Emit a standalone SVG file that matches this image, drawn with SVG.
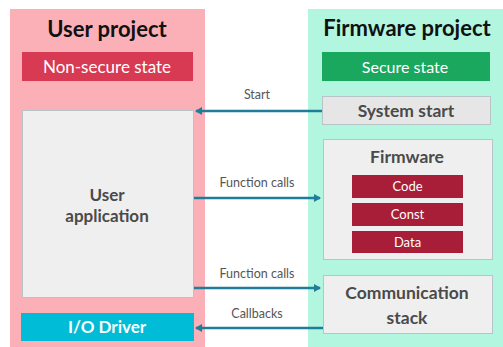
<svg xmlns="http://www.w3.org/2000/svg" width="503" height="347" viewBox="0 0 503 347">
  <style>
    text { font-family: Lato, "Open Sans", "DejaVu Sans", sans-serif; text-anchor: middle; }
    .title { font-size: 22px; font-weight: bold; fill: #111; }
    .state { font-size: 16px; fill: #fff; }
    .box { fill: #efefef; stroke: #b9c4c8; stroke-width: 1; }
    .boxtext { font-size: 17.5px; font-weight: bold; fill: #4a4a4a; }
    .seg { fill: #a81e38; }
    .segtext { font-size: 13px; fill: #fff; }
    .lbl { font-size: 12.5px; fill: #555; }
    .conn { stroke: #1f7d99; stroke-width: 2.5; fill: none; marker-end: url(#arrow); }
  </style>
  <defs>
    <marker id="arrow" markerWidth="8" markerHeight="8" refX="6" refY="4" orient="auto" markerUnits="userSpaceOnUse">
      <path d="M0,0 L7,4 L0,8 Z" fill="#1f7d99"/>
    </marker>
  </defs>

  <rect width="503" height="347" fill="#fff"/>

  <!-- Left column: non-secure side -->
  <g id="user-project">
    <rect x="10" y="9" width="195" height="338" fill="#fbb0b8"/>
    <text class="title" x="107" y="37">User project</text>
  </g>
  <g id="non-secure-state">
    <rect x="22" y="52" width="171" height="29" fill="#d73a52"/>
    <text class="state" x="107" y="73" style="font-size:17px">Non-secure state</text>
  </g>
  <g id="user-application">
    <rect class="box" x="22.5" y="110.5" width="171" height="187"/>
    <text class="boxtext" x="107" y="201" style="font-size:17px">User</text>
    <text class="boxtext" x="107" y="222" style="font-size:17px">application</text>
  </g>
  <g id="io-driver">
    <rect x="21" y="313" width="173" height="28" fill="#00bcd6"/>
    <text class="boxtext" x="107" y="333" style="fill:#fff;font-size:17px">I/O Driver</text>
  </g>

  <!-- Right column: secure side -->
  <g id="firmware-project">
    <rect x="308" y="9" width="195" height="338" fill="#b2f6e0"/>
    <text class="title" x="407" y="36">Firmware project</text>
  </g>
  <g id="secure-state">
    <rect x="322" y="52" width="168" height="29" fill="#1aa85e"/>
    <text class="state" x="405" y="72.5">Secure state</text>
  </g>
  <g id="system-start">
    <rect class="box" x="322.5" y="96.5" width="168" height="28" style="fill:#e6e6e6"/>
    <text class="boxtext" x="406" y="116.5" style="font-size:17.5px">System start</text>
  </g>
  <g id="firmware">
    <rect class="box" x="323.5" y="139.5" width="169" height="120"/>
    <text class="boxtext" x="407" y="163">Firmware</text>
    <rect class="seg" x="352" y="175" width="111" height="23"/>
    <text class="segtext" x="407.5" y="191">Code</text>
    <rect class="seg" x="352" y="203" width="111" height="23"/>
    <text class="segtext" x="407.5" y="219">Const</text>
    <rect class="seg" x="352" y="231" width="111" height="22"/>
    <text class="segtext" x="407.5" y="247">Data</text>
  </g>
  <g id="communication-stack">
    <rect class="box" x="323.5" y="275.5" width="169" height="58"/>
    <text class="boxtext" x="407" y="299">Communication</text>
    <text class="boxtext" x="407" y="324">stack</text>
  </g>

  <!-- Connectors between the two sides -->
  <g id="connectors">
    <line class="conn" x1="322" y1="111" x2="196" y2="111"/>
    <text class="lbl" x="257" y="99">Start</text>
    <line class="conn" x1="194" y1="198" x2="320" y2="198"/>
    <text class="lbl" x="257" y="187">Function calls</text>
    <line class="conn" x1="194" y1="288" x2="320" y2="288"/>
    <text class="lbl" x="257" y="278">Function calls</text>
    <line class="conn" x1="323" y1="328" x2="196" y2="328"/>
    <text class="lbl" x="257" y="318">Callbacks</text>
  </g>
</svg>
